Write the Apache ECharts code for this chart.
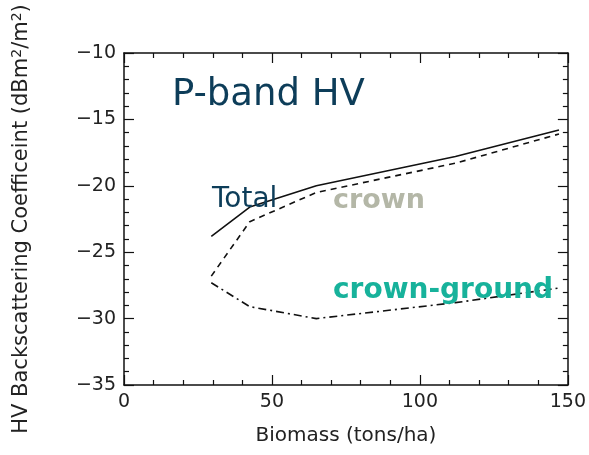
<!DOCTYPE html>
<html><head><meta charset="utf-8">
<script src="https://cdn.jsdelivr.net/npm/echarts@6/dist/echarts.min.js"></script>
<style>html,body{margin:0;padding:0;background:#fff}#c{width:589px;height:455px}</style>
</head><body><div id="c"></div>
<script>
const biomass = [29.5, 42.5, 65, 112, 147];
const total = [-23.8, -21.6, -20.0, -17.8, -15.8];
const crown = [-26.8, -22.7, -20.5, -18.3, -16.1];
const crownGround = [-27.3, -29.1, -30.0, -28.8, -27.7];
const xTicks = [0, 50, 100, 150];
const yTicks = [-35, -30, -25, -20, -15, -10];

const pairs = (ys) => biomass.map((x, i) => [x, ys[i]]);
const FONT = 'DejaVu Sans';
const tickCommon = {show: true, inside: true, length: 10, lineStyle: {color: '#111', width: 1.2}};
const minorCommon = {show: true, length: 5, splitNumber: 5, lineStyle: {color: '#111', width: 1.2}};
const lineCommon = {show: true, onZero: false, lineStyle: {color: '#111', width: 1.5}};

const chart = echarts.init(document.getElementById('c'), null, {renderer: 'canvas'});
chart.setOption({
  backgroundColor: '#fff',
  animation: false,
  grid: {left: 124, right: 20, top: 53, bottom: 70},
  xAxis: [{
    type: 'value', min: xTicks[0], max: xTicks[xTicks.length - 1], interval: 50, position: 'bottom',
    axisLine: lineCommon, axisTick: tickCommon, minorTick: minorCommon, splitLine: {show: false},
    axisLabel: {fontFamily: FONT, fontSize: 19, color: '#222', margin: 8},
    name: 'Biomass (tons/ha)', nameLocation: 'middle', nameGap: 41,
    nameTextStyle: {fontFamily: FONT, fontSize: 20, color: '#222'}
  }, {
    type: 'value', min: xTicks[0], max: xTicks[xTicks.length - 1], interval: 50, position: 'top',
    axisLine: lineCommon, axisTick: tickCommon, minorTick: minorCommon, splitLine: {show: false},
    axisLabel: {show: false}
  }],
  yAxis: [{
    type: 'value', min: yTicks[0], max: yTicks[yTicks.length - 1], interval: 5, position: 'left',
    axisLine: lineCommon, axisTick: tickCommon, minorTick: minorCommon, splitLine: {show: false},
    axisLabel: {fontFamily: FONT, fontSize: 19, color: '#222', margin: 8,
      formatter: v => (v < 0 ? '\u2212' + Math.abs(v) : String(v))},
    name: 'HV Backscattering Coefficeint (dBm{sup|2}/m{sup|2})', nameLocation: 'middle', nameGap: 90,
    nameTextStyle: {fontFamily: FONT, fontSize: 21, color: '#222',
      rich: {sup: {fontFamily: FONT, fontSize: 14, color: '#222', verticalAlign: 'top', padding: [0, 0, 10, 0]}}}
  }, {
    type: 'value', min: yTicks[0], max: yTicks[yTicks.length - 1], interval: 5, position: 'right',
    axisLine: lineCommon, axisTick: tickCommon, minorTick: minorCommon, splitLine: {show: false},
    axisLabel: {show: false}
  }],
  series: [
    {name: 'Total', type: 'line', data: pairs(total), symbol: 'none',
      lineStyle: {color: '#111', width: 1.6, type: 'solid'}},
    {name: 'crown', type: 'line', data: pairs(crown), symbol: 'none',
      lineStyle: {color: '#111', width: 1.6, type: [6, 5]}},
    {name: 'crown-ground', type: 'line', data: pairs(crownGround), symbol: 'none',
      lineStyle: {color: '#111', width: 1.6, type: [8, 4, 2, 4]}}
  ],
  graphic: [
    {type: 'text', left: 172, top: 77, z: 100,
      style: {text: 'P-band HV', font: 'normal 37px "DejaVu Sans"', fill: '#0d3d59'}},
    {type: 'text', left: 212, top: 186, z: 100,
      style: {text: 'Total', font: 'normal 28px "DejaVu Sans"', fill: '#0d3d59'}},
    {type: 'text', left: 333, top: 187, z: 100,
      style: {text: 'crown', font: 'bold 27px "DejaVu Sans"', fill: '#b4b7a7'}},
    {type: 'text', left: 333, top: 277, z: 100,
      style: {text: 'crown-ground', font: 'bold 28px "DejaVu Sans"', fill: '#17b29b'}}
  ]
});
</script></body></html>
